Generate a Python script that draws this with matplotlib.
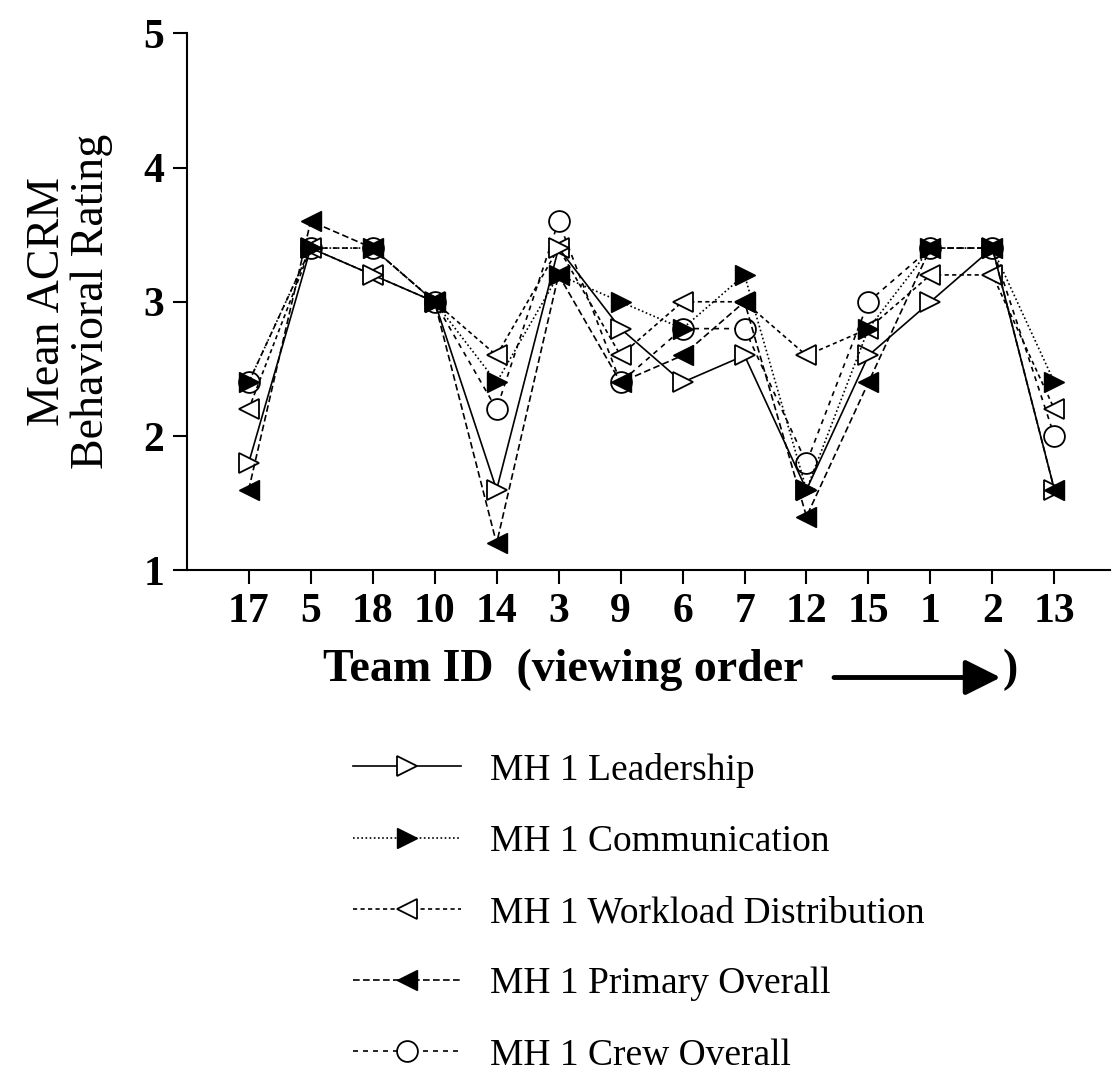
import matplotlib
matplotlib.use("Agg")
import matplotlib.pyplot as plt

# team IDs in viewing order
teams = ["17", "5", "18", "10", "14", "3", "9", "6", "7", "12", "15", "1", "2", "13"]

leadership = [1.8, 3.4, 3.2, 3.0, 1.6, 3.4, 2.8, 2.4, 2.6, 1.6, 2.6, 3.0, 3.4, 1.6]
communication = [2.4, 3.4, 3.4, 3.0, 2.4, 3.2, 3.0, 2.8, 3.2, 1.6, 2.8, 3.4, 3.4, 2.4]
workload = [2.2, 3.4, 3.2, 3.0, 2.6, 3.4, 2.6, 3.0, 3.0, 2.6, 2.8, 3.2, 3.2, 2.2]
primary = [1.6, 3.6, 3.4, 3.0, 1.2, 3.2, 2.4, 2.6, 3.0, 1.4, 2.4, 3.4, 3.4, 1.6]
crew = [2.4, 3.4, 3.4, 3.0, 2.2, 3.6, 2.4, 2.8, 2.8, 1.8, 3.0, 3.4, 3.4, 2.0]

plt.rcParams["font.family"] = ["Liberation Serif", "DejaVu Serif"]

fig = plt.figure(figsize=(11.18, 10.72), dpi=100)
ax = fig.add_axes([0.167, 0.468, 0.826, 0.501])

x = list(range(1, len(teams) + 1))
ms = 14
lw = 1.2
ax.plot(x, leadership, color="black", lw=lw, ls="-", marker=">", ms=ms,
        mfc="white", mec="black", mew=1.3, label="MH 1 Leadership", zorder=4)
ax.plot(x, communication, color="black", lw=lw, ls=(0, (1, 1.5)), marker=">", ms=ms,
        mfc="black", mec="black", label="MH 1 Communication", zorder=5)
ax.plot(x, workload, color="black", lw=lw, ls=(0, (2.5, 2)), marker="<", ms=ms,
        mfc="white", mec="black", mew=1.3, label="MH 1 Workload Distribution", zorder=3)
ax.plot(x, primary, color="black", lw=lw, ls=(0, (4, 2)), marker="<", ms=ms,
        mfc="black", mec="black", label="MH 1 Primary Overall", zorder=5)
ax.plot(x, crew, color="black", lw=lw, ls=(0, (3, 3)), marker="o", ms=ms + 1,
        mfc="white", mec="black", mew=1.3, label="MH 1 Crew Overall", zorder=2)

ax.set_xlim(0, 14.9)
ax.set_ylim(1, 5)
ax.set_xticks(x)
ax.set_xticklabels(teams)
ax.set_yticks([1, 2, 3, 4, 5])
ax.spines["top"].set_visible(False)
ax.spines["right"].set_visible(False)
ax.spines["left"].set_linewidth(1.5)
ax.spines["bottom"].set_linewidth(1.5)
ax.tick_params(axis="both", direction="out", length=10, width=1.5, labelsize=30, pad=6)
for lab in ax.get_xticklabels() + ax.get_yticklabels():
    lab.set_fontweight("bold")

ax.set_ylabel("Mean ACRM\nBehavioral Rating", fontsize=33, labelpad=22, linespacing=1.05)

# x axis title with arrow
fig.text(0.289, 0.375, "Team ID  (viewing order", fontsize=33, fontweight="bold",
         ha="left", va="center")
fig.text(0.897, 0.375, ")", fontsize=33, fontweight="bold", ha="left", va="center")
fig.add_artist(matplotlib.patches.FancyArrowPatch(
    (0.746, 0.368), (0.895, 0.368), transform=fig.transFigure,
    arrowstyle="-|>,head_length=0.9,head_width=0.45", mutation_scale=24,
    lw=3.5, color="black", shrinkA=0, shrinkB=0))

fig.legend(loc="upper left", bbox_to_anchor=(0.302, 0.312), frameon=False,
           fontsize=27, handlelength=2.9, handletextpad=0.75, labelspacing=0.98,
           borderaxespad=0, markerscale=1.0)

fig.savefig("out.png", dpi=100)
